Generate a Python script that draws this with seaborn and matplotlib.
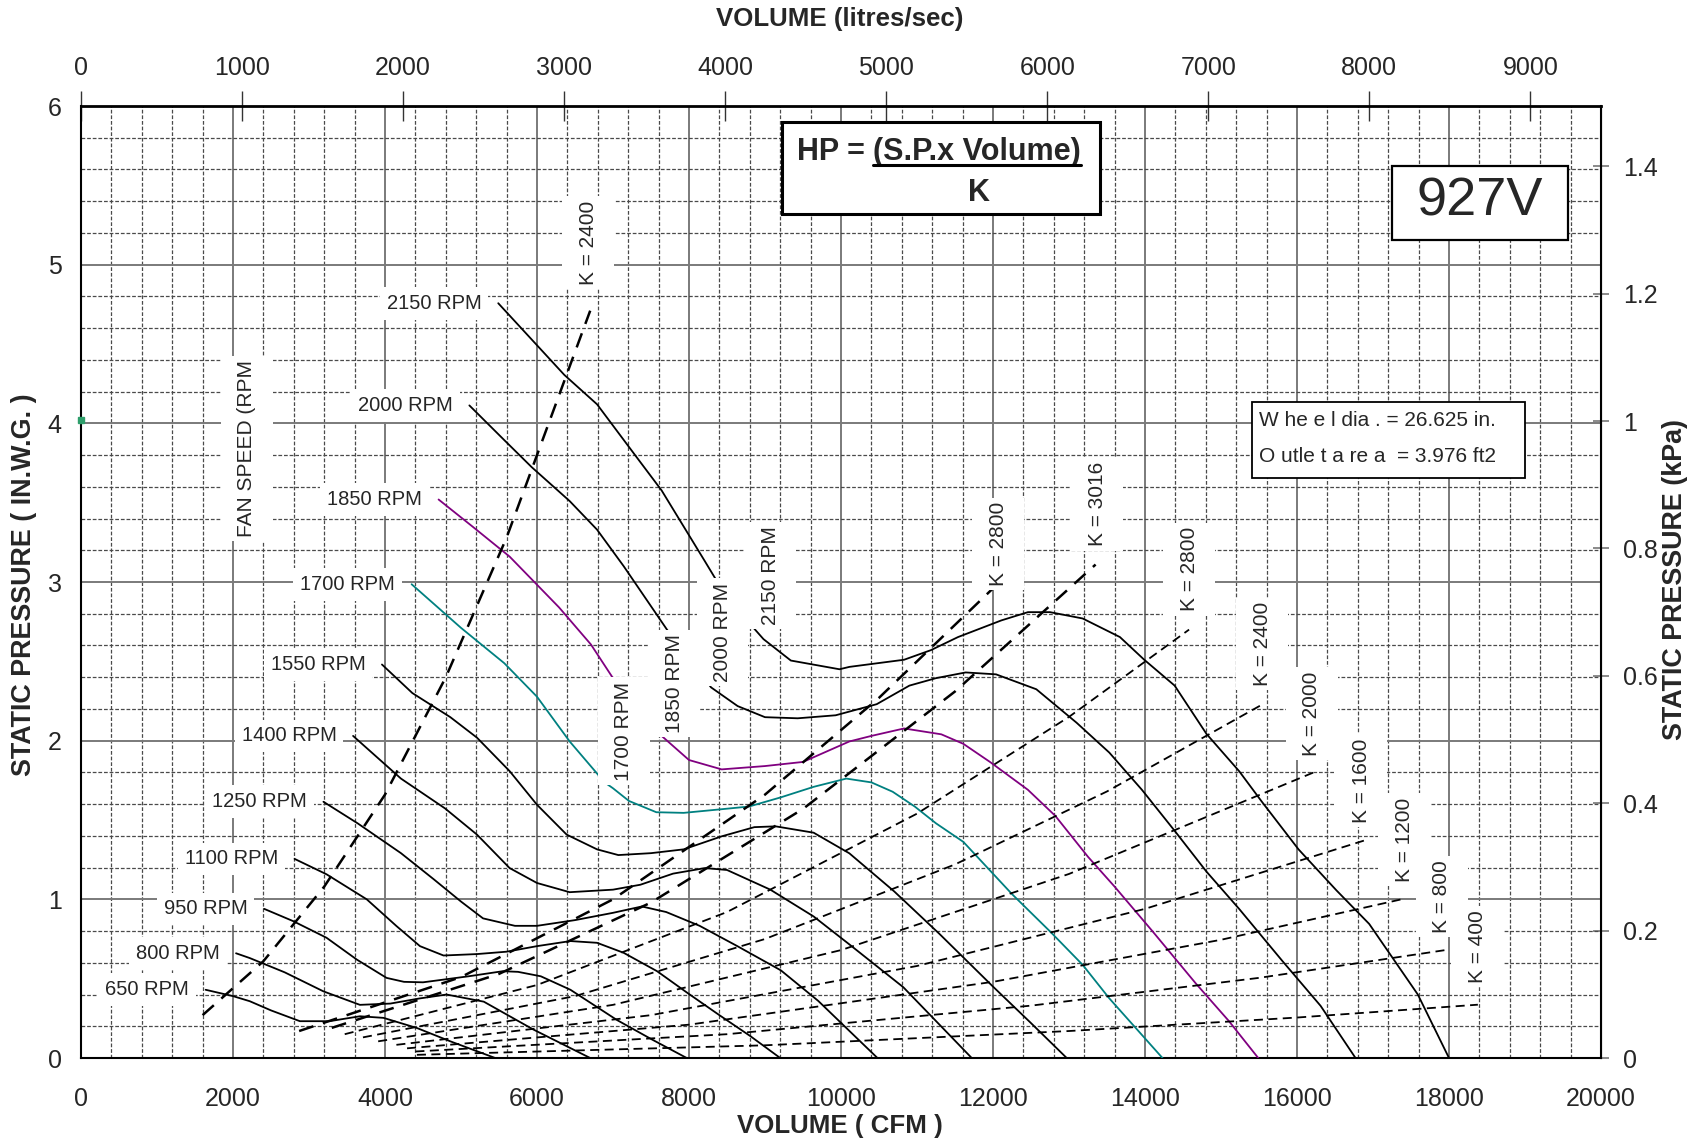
import matplotlib
matplotlib.use("Agg")
import matplotlib.pyplot as plt
from matplotlib.patches import Rectangle
from matplotlib.lines import Line2D
import pandas as pd
import seaborn as sns

# fan curves: volume (CFM) vs static pressure (in. w.g.)
q_650 = [1640, 2000, 2220, 2500, 2880, 3270, 3670, 3980, 4420, 4860, 5450]
sp_650 = [0.43, 0.39, 0.358, 0.30, 0.232, 0.232, 0.263, 0.253, 0.189, 0.105, 0.0]

q_800 = [2040, 2220, 2680, 3190, 3670, 4070, 4450, 4810, 5300, 5950, 6700]
sp_800 = [0.66, 0.63, 0.54, 0.42, 0.335, 0.343, 0.375, 0.40, 0.355, 0.18, 0.0]

q_950 = [2410, 2790, 3230, 3630, 4020, 4250, 4500, 5100, 5550, 5750, 6050, 6440, 7050, 7500, 7970]
sp_950 = [0.94, 0.863, 0.758, 0.62, 0.505, 0.48, 0.477, 0.515, 0.547, 0.543, 0.515, 0.43, 0.24, 0.12, 0.0]

q_1100 = [2810, 3230, 3760, 4150, 4460, 4770, 5210, 5600, 6000, 6440, 6790, 7140, 7580, 7980, 8400, 8810, 9200]
sp_1100 = [1.255, 1.158, 1.0, 0.832, 0.705, 0.646, 0.655, 0.67, 0.705, 0.737, 0.726, 0.663, 0.547, 0.41, 0.27, 0.137, 0.0]

q_1250 = [3190, 3640, 4210, 4640, 5000, 5290, 5710, 6000, 6500, 7000, 7380, 7700, 8140, 8640, 9210, 9700, 10480]
sp_1250 = [1.615, 1.479, 1.291, 1.127, 0.986, 0.88, 0.833, 0.833, 0.869, 0.915, 0.955, 0.92, 0.833, 0.704, 0.552, 0.36, 0.0]

q_1400 = [3580, 4210, 4790, 5210, 5640, 6000, 6430, 7000, 7360, 7790, 8210, 8500, 9070, 9640, 10110, 10820, 11720]
sp_1400 = [2.03, 1.761, 1.573, 1.408, 1.197, 1.103, 1.045, 1.061, 1.092, 1.162, 1.197, 1.185, 1.061, 0.892, 0.716, 0.446, 0.0]

q_1550 = [3960, 4360, 4860, 5210, 5640, 6000, 6390, 6790, 7070, 7500, 7930, 8430, 8860, 9140, 9640, 10110, 10700, 11300, 12000, 12500, 12970]
sp_1550 = [2.48, 2.30, 2.148, 2.019, 1.808, 1.596, 1.408, 1.315, 1.279, 1.291, 1.315, 1.397, 1.455, 1.46, 1.42, 1.29, 1.05, 0.78, 0.45, 0.22, 0.0]

q_1700 = [4350, 5000, 5570, 6000, 6430, 6890, 7000, 7210, 7570, 7930, 8430, 8790, 9210, 9640, 10070, 10400, 10680, 10970, 11250, 11610, 12250, 12750, 13180, 13530, 14230]
sp_1700 = [2.986, 2.711, 2.488, 2.277, 1.995, 1.737, 1.70, 1.62, 1.549, 1.545, 1.568, 1.585, 1.643, 1.709, 1.761, 1.737, 1.678, 1.585, 1.479, 1.362, 1.033, 0.798, 0.587, 0.376, 0.0]

q_1850 = [4705, 5150, 5640, 6290, 6710, 7000, 7500, 8000, 8430, 9000, 9500, 10110, 10400, 10830, 11320, 11610, 11960, 12460, 12820, 13250, 13600, 14100, 14670, 15100, 15490]
sp_1850 = [3.52, 3.35, 3.16, 2.84, 2.606, 2.394, 2.089, 1.878, 1.819, 1.84, 1.866, 1.995, 2.03, 2.077, 2.04, 1.98, 1.866, 1.69, 1.526, 1.268, 1.08, 0.798, 0.469, 0.235, 0.0]

q_2000 = [5110, 5570, 5930, 6430, 6790, 7140, 7710, 8000, 8290, 8640, 9000, 9430, 9930, 10470, 10900, 11250, 11640, 12040, 12570, 13100, 13530, 13960, 14390, 14810, 15240, 15810, 16310, 16770]
sp_2000 = [4.113, 3.894, 3.724, 3.51, 3.33, 3.10, 2.70, 2.52, 2.336, 2.218, 2.148, 2.141, 2.16, 2.23, 2.347, 2.394, 2.43, 2.418, 2.324, 2.113, 1.925, 1.69, 1.432, 1.174, 0.939, 0.61, 0.329, 0.0]

q_2150 = [5490, 6360, 6790, 7290, 7640, 8210, 8500, 8980, 9340, 9980, 10110, 10830, 11180, 11540, 12110, 12460, 12750, 13180, 13670, 13990, 14390, 14810, 15240, 15530, 16020, 16520, 16950, 17590, 18000]
sp_2150 = [4.757, 4.305, 4.12, 3.80, 3.577, 3.13, 2.90, 2.64, 2.505, 2.45, 2.465, 2.51, 2.57, 2.653, 2.758, 2.81, 2.81, 2.77, 2.653, 2.51, 2.347, 2.042, 1.807, 1.62, 1.315, 1.056, 0.845, 0.40, 0.0]

fan_speeds = [650, 800, 950, 1100, 1250, 1400, 1550, 1700, 1850, 2000, 2150]
fan_q = [q_650, q_800, q_950, q_1100, q_1250, q_1400, q_1550, q_1700, q_1850, q_2000, q_2150]
fan_sp = [sp_650, sp_800, sp_950, sp_1100, sp_1250, sp_1400, sp_1550, sp_1700, sp_1850, sp_2000, sp_2150]

# K (horsepower constant) lines
k2400a_q = [1600, 2400, 3200, 4000, 4800, 5600, 6700]
k2400a_sp = [0.27, 0.61, 1.08, 1.66, 2.40, 3.28, 4.71]
k2800a_q = [2870, 5000, 7000, 9000, 10500, 12000]
k2800a_sp = [0.17, 0.51, 1.0, 1.66, 2.27, 2.96]
k3016_q = [3300, 5500, 7500, 9500, 11500, 13350]
k3016_sp = [0.19, 0.53, 0.98, 1.57, 2.31, 3.11]
k2800b_q = [3470, 6000, 8500, 11000, 13000, 14580]
k2800b_sp = [0.15, 0.46, 0.92, 1.54, 2.15, 2.70]
k2400b_q = [3710, 6500, 9000, 11500, 13500, 15550]
k2400b_sp = [0.13, 0.39, 0.75, 1.22, 1.68, 2.23]
k2000_q = [3910, 7000, 10000, 13000, 16220]
k2000_sp = [0.105, 0.335, 0.68, 1.16, 1.80]
k1600_q = [4150, 7500, 11000, 14000, 16880]
k1600_sp = [0.083, 0.27, 0.58, 0.94, 1.37]
k1200_q = [4290, 8000, 12000, 15000, 17430]
k1200_sp = [0.061, 0.21, 0.48, 0.745, 1.006]
k800_q = [4400, 8500, 12500, 15500, 17950]
k800_sp = [0.041, 0.15, 0.33, 0.505, 0.68]
k400_q = [4420, 9000, 13000, 16000, 18380]
k400_sp = [0.02, 0.08, 0.17, 0.255, 0.336]

k_names = ["K = 2400", "K = 2800", "K = 3016", "K = 2800", "K = 2400",
           "K = 2000", "K = 1600", "K = 1200", "K = 800", "K = 400"]
k_q = [k2400a_q, k2800a_q, k3016_q, k2800b_q, k2400b_q, k2000_q, k1600_q, k1200_q, k800_q, k400_q]
k_sp = [k2400a_sp, k2800a_sp, k3016_sp, k2800b_sp, k2400b_sp, k2000_sp, k1600_sp, k1200_sp, k800_sp, k400_sp]

x_ticks_cfm = list(range(0, 20001, 2000))
x_ticks_ls = list(range(0, 9001, 1000))
y_ticks_in = [0, 1, 2, 3, 4, 5, 6]
y_ticks_kpa = [0, 0.2, 0.4, 0.6, 0.8, 1.0, 1.2, 1.4]
y_labels_kpa = ["0", "0.2", "0.4", "0.6", "0.8", "1", "1.2", "1.4"]

model_name = "927V"
wheel_lines = ["W he e l dia . = 26.625 in.", "O utle t a re a  = 3.976 ft2"]

# ---- layout (label anchor positions in data units) ----
vert_rpm_labels = {1700: (7140, 2.06), 1850: (7805, 2.36), 2000: (8440, 2.685), 2150: (9070, 3.04)}
k_label_pos = [(6672, 5.14), (12070, 3.24), (13370, 3.49), (14581, 3.08), (15542, 2.61),
               (16197, 2.17), (16847, 1.75), (17410, 1.376), (17904, 1.015), (18371, 0.70)]
k_bold = [True, True, True, False, False, False, False, False, False, False]

sns.set_style("white")
plt.rcParams['font.family'] = ['Liberation Sans', 'DejaVu Sans']

fig = plt.figure(figsize=(16.98, 11.42), dpi=100)
ax = fig.add_axes([81 / 1698, 84 / 1142, 1520 / 1698, 952 / 1142])
ax.set_xlim(0, 20000)
ax.set_ylim(0, 6)

# grid
ax.set_xticks(x_ticks_cfm)
ax.set_xticks(range(0, 20001, 400), minor=True)
ax.set_yticks(y_ticks_in)
ax.set_yticks([i * 0.2 for i in range(31)], minor=True)
ax.grid(True, which='major', color='#7a7a7a', lw=1.4, ls='-')
ax.grid(True, which='minor', color='#4a4a4a', lw=0.9, ls=(0, (3, 1.5)))
ax.set_axisbelow(True)
ax.tick_params(which='minor', length=0)
ax.tick_params(axis='x', which='major', direction='inout', length=18, pad=12, labelsize=18, width=1.2)
ax.tick_params(axis='y', which='major', direction='out', length=9, pad=5, labelsize=18, width=1.2)
ax.set_yticklabels([str(v) for v in y_ticks_in])
for s in ax.spines.values():
    s.set_color('black')
    s.set_linewidth(1.5)
ax.spines['top'].set_linewidth(2)

# fan curves
rows = []
for rpm, qs, sps in zip(fan_speeds, fan_q, fan_sp):
    for q, sp in zip(qs, sps):
        rows.append({'rpm': rpm, 'q': q, 'sp': sp})
fan_df = pd.DataFrame(rows)
colors = {rpm: 'black' for rpm in fan_speeds}
colors[1700] = '#008080'
colors[1850] = '#800080'
sns.lineplot(data=fan_df, x='q', y='sp', hue='rpm', palette=colors, sort=False,
             estimator=None, legend=False, ax=ax, linewidth=1.3, zorder=3)

# K lines
for name, qs, sps, bold in zip(k_names, k_q, k_sp, k_bold):
    kdf = pd.DataFrame({'q': qs, 'sp': sps})
    sns.lineplot(data=kdf, x='q', y='sp', sort=False, estimator=None, ax=ax, color='black',
                 linewidth=1.8 if bold else 1.3,
                 linestyle=(0, (6, 4)) if bold else (0, (5, 3)), zorder=3)

ax.set_xlabel("")
ax.set_ylabel("")

# labels sit on white patches that blank out the grid; blank lines widen the patch
box = dict(facecolor='white', edgecolor='none', pad=3)

for rpm, qs, sps in zip(fan_speeds, fan_q, fan_sp):
    ax.annotate(f"{rpm} RPM", xy=(qs[0], sps[0]), xytext=(-12, 0), textcoords='offset points',
                ha='right', va='center', fontsize=14.5,
                bbox=dict(facecolor='white', edgecolor='none', pad=5), zorder=6)
for rpm, (xq, ysp) in vert_rpm_labels.items():
    ax.text(xq, ysp, f"\n{rpm} RPM\n", rotation=90, ha='center', va='center', fontsize=15,
            linespacing=0.55, bbox=box, zorder=6)
for name, (xq, ysp) in zip(k_names, k_label_pos):
    ax.text(xq, ysp, f"\n{name}\n", rotation=90, ha='center', va='center', fontsize=15,
            linespacing=0.55, bbox=box, zorder=6)
ax.text(2181, 3.84, "\nFAN SPEED (RPM\n", rotation=90, ha='center', va='center', fontsize=15,
        linespacing=0.55, bbox=box, zorder=6)

# small green dot on the left axis
ax.plot([0], [4.02], marker='s', color='#2e9e6b', ms=4, clip_on=False, zorder=7)

# HP formula box
ax.add_patch(Rectangle((9224, 5.319), 4184, 0.58, facecolor='white', edgecolor='black', lw=2.2, zorder=8))
ax.text(10421, 5.71, "HP = ", ha='right', va='center', fontsize=22, fontweight='bold', zorder=9)
t_frac = ax.text(10421, 5.71, "(S.P.x Volume)", ha='left', va='center', fontsize=22,
                 fontweight='bold', zorder=9)
ax.text(11820, 5.45, "K", ha='center', va='center', fontsize=22, fontweight='bold', zorder=9)

# model box
ax.add_patch(Rectangle((17250, 5.155), 2316, 0.467, facecolor='white', edgecolor='black', lw=1.6, zorder=8))
ax.text(18400, 5.40, model_name, ha='center', va='center', fontsize=39, zorder=9)

# wheel box
ax.add_patch(Rectangle((15408, 3.655), 3592, 0.479, facecolor='white', edgecolor='black', lw=1.3, zorder=8))
ax.text(15500, 4.015, wheel_lines[0], ha='left', va='center', fontsize=15, zorder=9)
ax.text(15500, 3.79, wheel_lines[1], ha='left', va='center', fontsize=15, zorder=9)

# secondary axes
cfm_per_ls = 2.118880
top = ax.secondary_xaxis('top', functions=(lambda q: q / cfm_per_ls, lambda l: l * cfm_per_ls))
top.set_xticks(x_ticks_ls)
top.set_xticklabels([str(v) for v in x_ticks_ls])
top.tick_params(direction='inout', length=22, width=1.0, pad=8, labelsize=18, color='#333333')
kpa_per_in = 0.249089
right = ax.secondary_yaxis('right', functions=(lambda p: p * kpa_per_in, lambda k: k / kpa_per_in))
right.set_yticks(y_ticks_kpa)
right.set_yticklabels(y_labels_kpa)
right.tick_params(direction='inout', length=12, width=1.2, pad=10, labelsize=18, color='#777777')

fig.text(840 / 1698, 1 - 19 / 1142, "VOLUME (litres/sec)", ha='center', va='center',
         fontsize=18.6, fontweight='bold')
fig.text(840 / 1698, 1 - 1126 / 1142, "VOLUME ( CFM )", ha='center', va='center',
         fontsize=18.6, fontweight='bold')
fig.text(24 / 1698, 1 - 585 / 1142, "STATIC PRESSURE ( IN.W.G. )", rotation=90, ha='center',
         va='center', fontsize=19.4, fontweight='bold')
fig.text(1675 / 1698, 1 - 580 / 1142, "STATIC PRESSURE (kPa)", rotation=90, ha='center',
         va='center', fontsize=19.4, fontweight='bold')

# underline the numerator of the HP formula
fig.canvas.draw()
bb = t_frac.get_window_extent(fig.canvas.get_renderer())
inv = fig.transFigure.inverted()
(x0, y0), (x1, _) = inv.transform([(bb.x0, bb.y0 + 2), (bb.x1, bb.y0 + 2)])
fig.add_artist(Line2D([x0, x1], [y0, y0], color='black', lw=2.2, zorder=10))

fig.savefig("out.png", dpi=100)
